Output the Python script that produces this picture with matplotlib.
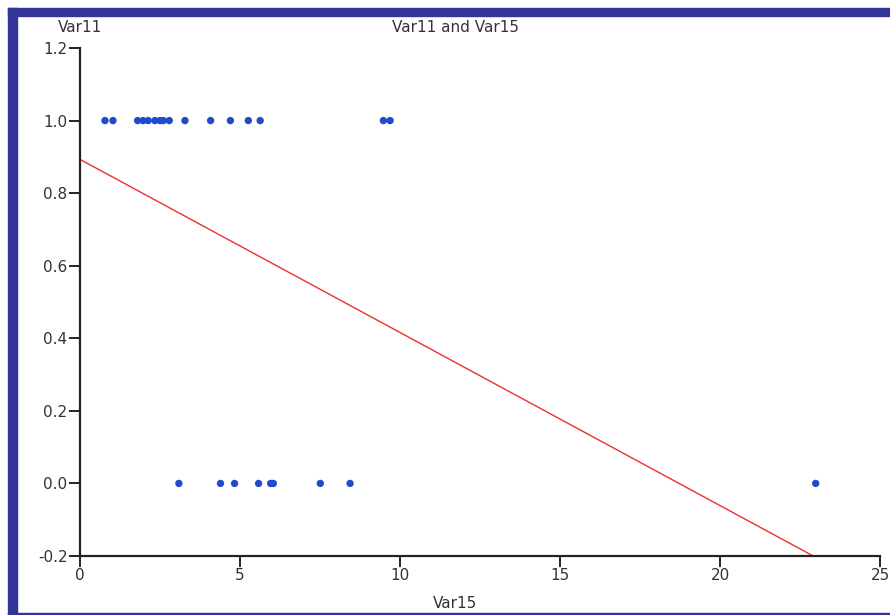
import numpy as np
import matplotlib
matplotlib.use("Agg")
from matplotlib import pyplot as plt
from matplotlib.patches import Rectangle

# values
var15_ones = [0.78, 1.03, 1.8, 1.97, 2.13, 2.34, 2.5, 2.6, 2.79, 3.28, 4.08, 4.7, 5.26, 5.63, 9.48, 9.69]
var15_zeros = [3.09, 4.39, 4.83, 5.58, 5.96, 6.04, 7.51, 8.44, 22.99]
fit_intercept = 0.893
fit_slope = -0.0477

x_ticks = [0, 5, 10, 15, 20, 25]
y_ticks = [-0.2, 0.0, 0.2, 0.4, 0.6, 0.8, 1.0, 1.2]

W, H = 890, 615
fig = plt.figure(figsize=(W / 100, H / 100), dpi=100)
fig.patch.set_facecolor('white')

# blue window frame (top, left, bottom)
frame = '#343399'
fig.patches.append(Rectangle((8 / W, 1 - 16 / H), 1 - 8 / W, 8 / H, transform=fig.transFigure,
                             color=frame, zorder=0))
fig.patches.append(Rectangle((8 / W, 0), 9 / W, 1 - 8 / H, transform=fig.transFigure,
                             color=frame, zorder=0))
fig.patches.append(Rectangle((8 / W, 0), 1 - 8 / W, 2 / H, transform=fig.transFigure,
                             color=frame, zorder=0))

ax = fig.add_axes([80 / W, (H - 556) / H, 800 / W, 508 / H])
ax.set_xlim(0, 25)
ax.set_ylim(-0.2, 1.2)

xs = np.concatenate([var15_ones, var15_zeros])
ys = np.concatenate([np.ones(len(var15_ones)), np.zeros(len(var15_zeros))])
ax.scatter(xs, ys, s=28, color='#1f4bcc', edgecolors='none', zorder=3, clip_on=False)

line_x = np.array([0, 25])
ax.plot(line_x, fit_intercept + fit_slope * line_x, color='#e8312f', lw=1.0, zorder=2)

for s in ['top', 'right']:
    ax.spines[s].set_visible(False)
for s in ['left', 'bottom']:
    ax.spines[s].set_color('#222222')
    ax.spines[s].set_linewidth(1.6)

ax.set_xticks(x_ticks)
ax.set_yticks(y_ticks)
ax.set_yticklabels([f'{v:.1f}' for v in y_ticks])
ax.tick_params(direction='out', length=8, width=1.4, color='#222222',
               labelsize=11, labelcolor='#333333', pad=1)

fig.text(80 / W, 1 - 28 / H, 'Var11', ha='center', va='center', fontsize=11, color='#333333')
fig.text(456 / W, 1 - 28 / H, 'Var11 and Var15', ha='center', va='center', fontsize=11, color='#333333')
fig.text(455 / W, 1 - 604 / H, 'Var15', ha='center', va='center', fontsize=11, color='#333333')

fig.savefig('out.png', dpi=100)
